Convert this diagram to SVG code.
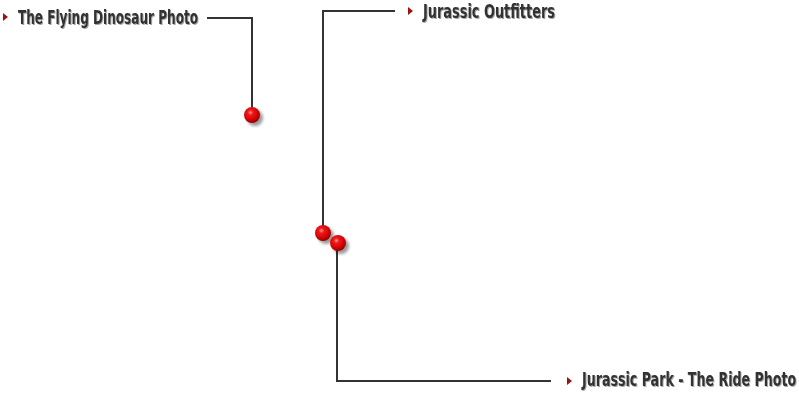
<svg xmlns="http://www.w3.org/2000/svg" width="799" height="393" viewBox="0 0 799 393">
<defs>
<radialGradient id="ball" cx="0.4" cy="0.35" r="0.65">
<stop offset="0" stop-color="#ff9a9a"/>
<stop offset="0.25" stop-color="#f01818"/>
<stop offset="0.8" stop-color="#c80000"/>
<stop offset="1" stop-color="#8a0000"/>
</radialGradient>
<filter id="sh" x="-50%" y="-50%" width="200%" height="200%">
<feGaussianBlur in="SourceAlpha" stdDeviation="1.5"/>
<feOffset dx="3" dy="3" result="b"/>
<feComponentTransfer><feFuncA type="linear" slope="0.4"/></feComponentTransfer>
<feMerge><feMergeNode/><feMergeNode in="SourceGraphic"/></feMerge>
</filter>
<filter id="tsh" x="-5%" y="-30%" width="110%" height="160%">
<feGaussianBlur in="SourceAlpha" stdDeviation="0.6"/>
<feOffset dx="1" dy="1"/>
<feComponentTransfer><feFuncA type="linear" slope="0.35"/></feComponentTransfer>
<feMerge><feMergeNode/><feMergeNode in="SourceGraphic"/></feMerge>
</filter>
</defs>
<style>
.ln{fill:none;stroke:#333;stroke-width:2}
.lbl{font-family:"DejaVu Sans Condensed","Liberation Sans Narrow","Liberation Sans",sans-serif;font-weight:bold;font-size:19px;fill:#333}
.tri{fill:#a01010}
.ball{fill:url(#ball)}
</style>
<g id="connectors">
<polyline class="ln" points="207,18 252,18 252,115"/>
<polyline class="ln" points="395,11 323,11 323,233"/>
<polyline class="ln" points="551,381 337,381 337,243"/>
</g>
<g id="node-flying-dinosaur">
<polygon class="tri" points="3,13 8,17 3,21"/>
<text class="lbl" x="18" y="24" textLength="180" lengthAdjust="spacingAndGlyphs" filter="url(#tsh)">The Flying Dinosaur Photo</text>
<circle class="ball" cx="252" cy="115" r="8" filter="url(#sh)"/>
</g>
<g id="node-jurassic-outfitters">
<polygon class="tri" points="408,7 413,11 408,15"/>
<text class="lbl" x="423" y="18" textLength="132" lengthAdjust="spacingAndGlyphs" filter="url(#tsh)">Jurassic Outfitters</text>
<circle class="ball" cx="323" cy="233" r="8" filter="url(#sh)"/>
</g>
<g id="node-jurassic-park-ride">
<polygon class="tri" points="567,377 572,381 567,385"/>
<text class="lbl" transform="translate(582 386) scale(0.74 1)" filter="url(#tsh)">Jurassic Park - The Ride Photo</text>
<circle class="ball" cx="338" cy="243" r="8" filter="url(#sh)"/>
</g>
</svg>
